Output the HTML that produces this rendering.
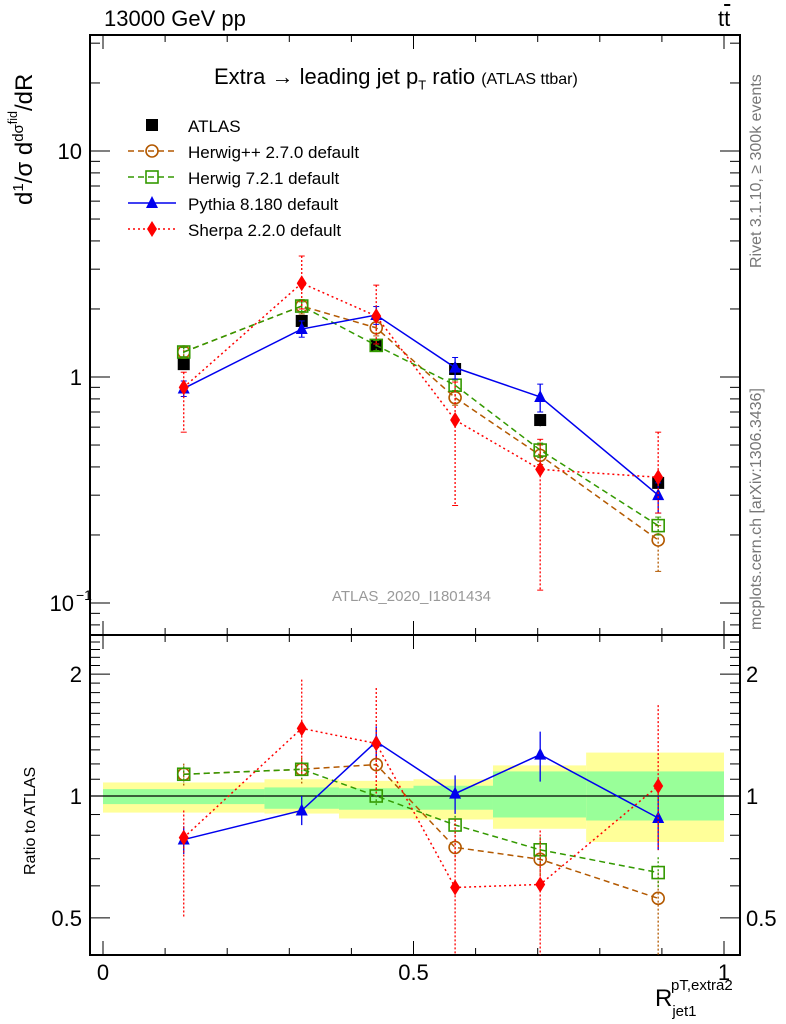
<!DOCTYPE html>
<html><head><meta charset="utf-8"><style>
body{margin:0;background:#fff;}
svg{display:block;font-family:"Liberation Sans",sans-serif;}
</style></head><body>
<svg id="c" width="786" height="1024" viewBox="0 0 786 1024"></svg>
<script>
const xs=[0.13,0.32,0.44,0.567,0.704,0.894];
const atlas=[1.14,1.77,1.38,1.085,0.645,0.34];
const atlasErr=[0.05,0.08,0.06,0.05,0.04,0.03];
const herwigpp=[1.29,2.06,1.65,0.81,0.45,0.19];
const herwigppUp=[1.37,2.2,1.78,0.87,0.5,0.22];
const herwigppDn=[1.21,1.9,1.52,0.75,0.41,0.138];
const herwig7=[1.29,2.06,1.38,0.92,0.475,0.22];
const herwig7Up=[1.35,2.15,1.45,0.97,0.51,0.24];
const herwig7Dn=[1.23,1.95,1.31,0.87,0.44,0.2];
const pythia=[0.89,1.63,1.88,1.1,0.816,0.30];
const pythiaUp=[0.96,1.77,2.05,1.22,0.93,0.34];
const pythiaDn=[0.82,1.5,1.71,0.98,0.7,0.25];
const sherpa=[0.9,2.6,1.86,0.645,0.39,0.36];
const sherpaUp=[1.05,3.43,2.55,0.95,0.53,0.57];
const sherpaDn=[0.57,2.0,1.4,0.27,0.114,0.25];
const binEdges=[0,0.26,0.38,0.5,0.628,0.778,1.0];
const yelUp=[1.08,1.1,1.09,1.1,1.19,1.28];
const yelDn=[0.91,0.905,0.88,0.875,0.83,0.77];
const grnUp=[1.04,1.05,1.045,1.06,1.15,1.15];
const grnDn=[0.955,0.93,0.925,0.925,0.885,0.87];
const xTicks=[0,0.5,1];
const xTickLabels=["0","0.5","1"];

const NS="http://www.w3.org/2000/svg";
const svg=document.getElementById('c');
function mk(tag,at,parent){const e=document.createElementNS(NS,tag);for(const k in at)e.setAttribute(k,at[k]);(parent||svg).appendChild(e);return e;}
const L=90,R=740,T=35,B=635,RB=955;
const X=v=>103+621*v;
const Y=v=>377-226*Math.log10(v);
const YR=v=>796-405*Math.log10(v);

// ratio bands
for(let i=0;i<6;i++){
  let r=mk('rect',{x:X(binEdges[i]),y:YR(yelUp[i]),width:X(binEdges[i+1])-X(binEdges[i]),height:YR(yelDn[i])-YR(yelUp[i]),fill:'#ffff99'});
  
  
  let g=mk('rect',{x:X(binEdges[i]),y:YR(grnUp[i]),width:X(binEdges[i+1])-X(binEdges[i]),height:YR(grnDn[i])-YR(grnUp[i]),fill:'#99ff99'});
  
  
}
mk('line',{x1:L,x2:R,y1:YR(1),y2:YR(1),stroke:'#000','stroke-width':1.2});

// frames
mk('rect',{x:L,y:T,width:R-L,height:B-T,fill:'none',stroke:'#000','stroke-width':2});
mk('rect',{x:L,y:B,width:R-L,height:RB-B,fill:'none',stroke:'#000','stroke-width':2});

// x ticks
for(let k=0;k<=10;k++){const v=k/10;const x=X(v);const len=(k%5==0)?14:7;
  [[T,T+len],[B,B-len],[B,B+len],[RB,RB-len]].forEach(p=>mk('line',{x1:x,x2:x,y1:p[0],y2:p[1],stroke:'#000','stroke-width':1}));}
xTicks.forEach((v,i)=>{let t=mk('text',{x:X(v),y:980,'font-size':22,'text-anchor':'middle'});t.textContent=xTickLabels[i];
  });
// main y log ticks
for(let d=-2;d<=1;d++){for(let m=1;m<=9;m++){const v=m*Math.pow(10,d);const y=Y(v);if(y<T||y>B)continue;const len=m==1?20:10;
  mk('line',{x1:L,x2:L+len,y1:y,y2:y,stroke:'#000'});mk('line',{x1:R,x2:R-len,y1:y,y2:y,stroke:'#000'});}}
let t1=mk('text',{x:82,y:159,'font-size':22,'text-anchor':'end'});t1.textContent='10';
let t2=mk('text',{x:82,y:385,'font-size':22,'text-anchor':'end'});t2.textContent='1';
let t3=mk('text',{x:74,y:611,'font-size':22,'text-anchor':'end'});t3.textContent='10';
let t3b=mk('text',{x:76,y:600,'font-size':14});t3b.textContent='−1';
// ratio y ticks
[0.4,0.5,0.6,0.7,0.8,0.9,1,1.1,1.2,1.3,1.4,1.5,1.6,1.7,1.8,1.9,2,2.1,2.2,2.3,2.4].forEach(v=>{const y=YR(v);if(y<B||y>RB)return;
  const len=(v==0.5||v==1||v==2)?20:10;mk('line',{x1:L,x2:L+len,y1:y,y2:y,stroke:'#000'});mk('line',{x1:R,x2:R-len,y1:y,y2:y,stroke:'#000'});});
[[2,'2'],[1,'1'],[0.5,'0.5']].forEach(a=>{let t=mk('text',{x:82,y:YR(a[0])+8,'font-size':22,'text-anchor':'end'});t.textContent=a[1];
  let u=mk('text',{x:746,y:YR(a[0])+8,'font-size':22});u.textContent=a[1];});

// series
const series=[
 {name:'herwigpp',v:herwigpp,up:herwigppUp,dn:herwigppDn,c:'#b35900',dash:'6,4',m:'circle'},
 {name:'herwig7',v:herwig7,up:herwig7Up,dn:herwig7Dn,c:'#339900',dash:'6,4',m:'square'},
 {name:'pythia',v:pythia,up:pythiaUp,dn:pythiaDn,c:'#0000ee',dash:'',m:'tri'},
 {name:'sherpa',v:sherpa,up:sherpaUp,dn:sherpaDn,c:'#ff0000',dash:'2,3',m:'diamond'}];
function marker(type,x,y,c,name){let e;
  if(type=='circle')e=mk('circle',{cx:x,cy:y,r:6,fill:'none',stroke:c,'stroke-width':1.6});
  else if(type=='square')e=mk('rect',{x:x-6,y:y-6,width:12,height:12,fill:'none',stroke:c,'stroke-width':1.6});
  else if(type=='tri')e=mk('polygon',{points:`${x},${y-7} ${x-6},${y+5} ${x+6},${y+5}`,fill:c});
  else if(type=='diamond')e=mk('polygon',{points:`${x},${y-8} ${x-5},${y} ${x},${y+8} ${x+5},${y}`,fill:c});
  else e=mk('rect',{x:x-6,y:y-6,width:12,height:12,fill:'#000'});
  }
function clampR(y){return Math.max(B,Math.min(RB,y));}
// atlas main
atlas.forEach((v,i)=>{mk('line',{x1:X(xs[i]),x2:X(xs[i]),y1:Y(v+atlasErr[i]),y2:Y(v-atlasErr[i]),stroke:'#000'});marker('sq',X(xs[i]),Y(v),'#000','atlas-point');});
series.forEach(s=>{
  const pts=s.v.map((v,i)=>X(xs[i])+','+Y(v)).join(' ');
  let pl=mk('polyline',{points:pts,fill:'none',stroke:s.c,'stroke-width':1.5,'stroke-dasharray':s.dash});
  
  const rp=s.v.map((v,i)=>X(xs[i])+','+YR(v/atlas[i])).join(' ');
  let rl=mk('polyline',{points:rp,fill:'none',stroke:s.c,'stroke-width':1.5,'stroke-dasharray':s.dash});
  
  s.v.forEach((v,i)=>{const x=X(xs[i]);
    mk('line',{x1:x,x2:x,y1:Y(s.up[i]),y2:Y(s.dn[i]),stroke:s.c,'stroke-width':1.3,'stroke-dasharray':s.dash?'2,2':''});
    mk('line',{x1:x-3,x2:x+3,y1:Y(s.up[i]),y2:Y(s.up[i]),stroke:s.c});mk('line',{x1:x-3,x2:x+3,y1:Y(s.dn[i]),y2:Y(s.dn[i]),stroke:s.c});
    marker(s.m,x,Y(v),s.c,s.name+'-point');
    const ru=clampR(YR(s.up[i]/atlas[i])),rd=clampR(YR(s.dn[i]/atlas[i]));
    mk('line',{x1:x,x2:x,y1:ru,y2:rd,stroke:s.c,'stroke-width':1.3,'stroke-dasharray':s.dash?'2,2':''});
    marker(s.m,x,YR(v/atlas[i]),s.c,s.name+'-ratio-point');
  });
});

// legend
const leg=[['ATLAS','#000','','sq'],['Herwig++ 2.7.0 default','#b35900','6,4','circle'],['Herwig 7.2.1 default','#339900','6,4','square'],['Pythia 8.180 default','#0000ee','','tri'],['Sherpa 2.2.0 default','#ff0000','2,3','diamond']];
leg.forEach((l,i)=>{const y=125+26*i;
  if(i>0)mk('line',{x1:128,x2:176,y1:y,y2:y,stroke:l[1],'stroke-width':1.5,'stroke-dasharray':l[2]});
  marker(l[3],152,y,l[1],'legend-marker');
  let t=mk('text',{x:188,y:y+7,'font-size':17});t.textContent=l[0];
  });
</script>
<div style="position:absolute;left:0;top:0;width:786px;height:1024px;pointer-events:none;font-family:'Liberation Sans',sans-serif;">
<div style="position:absolute;left:104px;top:6px;font-size:22px;">13000 GeV pp</div>
<div style="position:absolute;left:718px;top:6px;font-size:22px;">t<span style="text-decoration:overline">t</span></div>
<div style="position:absolute;left:214px;top:64px;font-size:22px;">Extra → leading jet p<sub style="font-size:13px">T</sub> ratio <span style="font-size:16px">(ATLAS ttbar)</span></div>
<div style="position:absolute;left:332px;top:588px;font-size:15px;color:#999;">ATLAS_2020_I1801434</div>
<div style="position:absolute;left:22px;top:875px;font-size:16px;transform:rotate(-90deg);transform-origin:0 0;white-space:nowrap;">Ratio to ATLAS</div>
<div style="position:absolute;left:6px;top:205px;font-size:24px;transform:rotate(-90deg);transform-origin:0 0;white-space:nowrap;">d<sup style="font-size:15px">1</sup>/σ d<sup style="font-size:15px">dσ<sup>fid</sup></sup>/dR</div>
<div style="position:absolute;left:748px;top:268px;font-size:16px;color:#777;transform:rotate(-90deg);transform-origin:0 0;white-space:nowrap;">Rivet 3.1.10, ≥ 300k events</div>
<div style="position:absolute;left:748px;top:630px;font-size:16px;color:#777;transform:rotate(-90deg);transform-origin:0 0;white-space:nowrap;">mcplots.cern.ch [arXiv:1306.3436]</div>
<div style="position:absolute;left:655px;top:985px;font-size:24px;white-space:nowrap;">R<span style="position:relative;top:10px;font-size:15px">jet1</span><span style="position:absolute;left:16px;top:-8px;font-size:15px">pT,extra2</span></div>
</div>
</body></html>
